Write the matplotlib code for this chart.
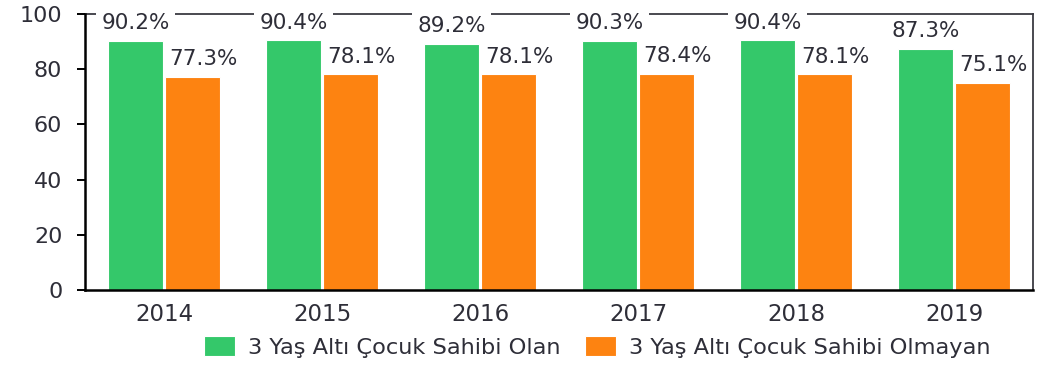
import matplotlib
matplotlib.use("Agg")
import matplotlib.pyplot as plt
import numpy as np

years = ["2014", "2015", "2016", "2017", "2018", "2019"]
with_child = [90.2, 90.4, 89.2, 90.3, 90.4, 87.3]
without_child = [77.3, 78.1, 78.1, 78.4, 78.1, 75.1]
series_names = ["3 Yaş Altı Çocuk Sahibi Olan", "3 Yaş Altı Çocuk Sahibi Olmayan"]
y_ticks = [0, 20, 40, 60, 80, 100]

green = "#34c86a"
orange = "#fd8311"
text_col = "#2e2e38"

plt.rcParams["font.family"] = ["DejaVu Sans"]
fig = plt.figure(figsize=(10.52, 3.65), dpi=100)
ax = fig.add_axes([0.081, 0.205, 0.901, 0.757])

x = np.arange(len(years))
w = 0.35
gap = 0.006
b1 = ax.bar(x - w / 2 - gap, with_child, w, color=green, edgecolor="white", linewidth=0.8, zorder=2)
b2 = ax.bar(x + w / 2 + gap, without_child, w, color=orange, edgecolor="white", linewidth=0.8, zorder=2)

label_size = 15.5
# labels of the taller series sit on a white box that breaks the top frame line
for xi, v in zip(x, with_child):
    ax.text(xi - w / 2 - gap, v + 4.2, f"{v}%", ha="center", va="baseline", fontsize=label_size,
            color=text_col, zorder=5, clip_on=False,
            bbox=dict(facecolor="white", edgecolor="none", pad=4))
for xi, v in zip(x, without_child):
    ax.text(xi + w / 2 + gap + 0.07, v + 4.2, f"{v}%", ha="center", va="baseline", fontsize=label_size,
            color=text_col, zorder=5, clip_on=False)

ax.set_xlim(-0.5, len(years) - 0.5)
ax.set_ylim(0, 100)
ax.set_yticks(y_ticks)
ax.set_xticks(x)
ax.set_xticklabels(years)
ax.tick_params(axis="y", labelsize=16, labelcolor=text_col, length=6, width=1.4, color="black", pad=10.5)
ax.tick_params(axis="x", labelsize=16.5, labelcolor=text_col, length=0, pad=9)

ax.spines["left"].set_linewidth(1.8)
ax.spines["left"].set_color("black")
ax.spines["bottom"].set_linewidth(1.8)
ax.spines["bottom"].set_color("black")
ax.spines["left"].set_zorder(3)
ax.spines["bottom"].set_zorder(3)
for s in ("top", "right"):
    ax.spines[s].set_linewidth(1.3)
    ax.spines[s].set_color("#3a3a42")
    ax.spines[s].set_zorder(1)

leg = fig.legend([b1, b2], series_names, loc="center", bbox_to_anchor=(0.5675, 0.049),
                 ncol=2, frameon=False, fontsize=16.2, handlelength=1.38, handleheight=0.98,
                 handletextpad=0.58, columnspacing=1.07, borderpad=0, borderaxespad=0)
for t in leg.get_texts():
    t.set_color(text_col)

fig.savefig("out.png", dpi=100)
